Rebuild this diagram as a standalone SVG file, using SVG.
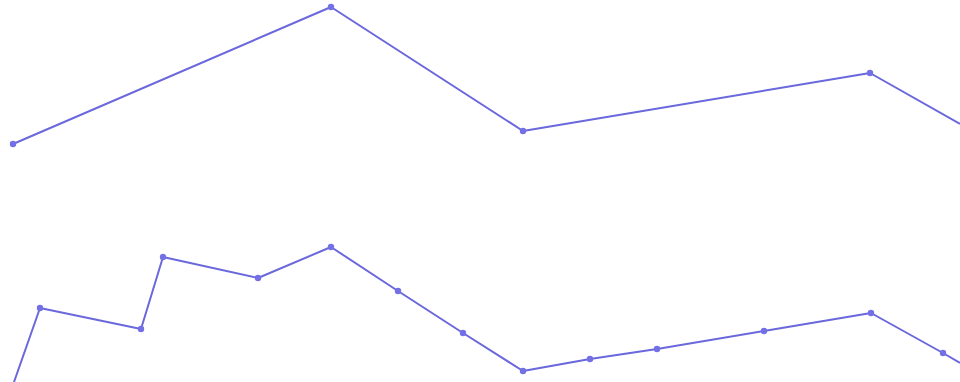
<svg xmlns="http://www.w3.org/2000/svg" width="960" height="382" viewBox="0 0 960 382">
<style>
.ln{fill:none;stroke:#6a68dc;stroke-width:2;stroke-linejoin:round}
.pt{fill:#7370e6}
</style>
<rect width="960" height="382" fill="#ffffff"/>
<g id="connectors">
<polyline class="ln" points="13,144 331,7 523,131 870,73 960,124"/>
<polyline class="ln" points="14,382 40,308 141,329 163,257 258,278 331,247 398,291 463,333 523,371 590,359 657,349 764,331 871,313 943,353 960,363"/>
</g>
<g id="top-points">
<g id="t1"><circle class="pt" cx="13" cy="144" r="3.2"/></g>
<g id="t2"><circle class="pt" cx="331" cy="7" r="3.2"/></g>
<g id="t3"><circle class="pt" cx="523" cy="131" r="3.2"/></g>
<g id="t4"><circle class="pt" cx="870" cy="73" r="3.2"/></g>
</g>
<g id="bottom-points">
<g id="b1"><circle class="pt" cx="40" cy="308" r="3.2"/></g>
<g id="b2"><circle class="pt" cx="141" cy="329" r="3.2"/></g>
<g id="b3"><circle class="pt" cx="163" cy="257" r="3.2"/></g>
<g id="b4"><circle class="pt" cx="258" cy="278" r="3.2"/></g>
<g id="b5"><circle class="pt" cx="331" cy="247" r="3.2"/></g>
<g id="b6"><circle class="pt" cx="398" cy="291" r="3.2"/></g>
<g id="b7"><circle class="pt" cx="463" cy="333" r="3.2"/></g>
<g id="b8"><circle class="pt" cx="523" cy="371" r="3.2"/></g>
<g id="b9"><circle class="pt" cx="590" cy="359" r="3.2"/></g>
<g id="b10"><circle class="pt" cx="657" cy="349" r="3.2"/></g>
<g id="b11"><circle class="pt" cx="764" cy="331" r="3.2"/></g>
<g id="b12"><circle class="pt" cx="871" cy="313" r="3.2"/></g>
<g id="b13"><circle class="pt" cx="943" cy="353" r="3.2"/></g>
</g>
</svg>
